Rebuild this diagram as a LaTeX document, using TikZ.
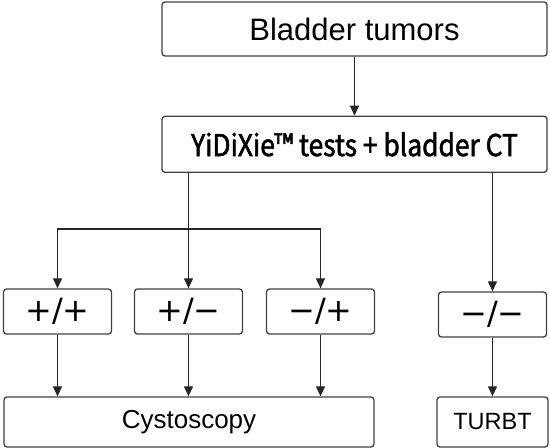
\documentclass[tikz,border=0pt]{standalone}
\usepackage[no-math]{fontspec}
\setmainfont{Liberation Sans}
\newfontfamily\yahei[FakeStretch=0.88, FakeBold=1.8]{Noto Sans CJK SC}
\newfontfamily\dejavu{DejaVu Sans}
\usetikzlibrary{arrows.meta, positioning}

\begin{document}
\begin{tikzpicture}[x=1pt, y=-1pt,
box/.style={rectangle, draw=black!75, rounded corners=3pt, line width=1.3pt, align=center, inner sep=0pt},
signbox/.style={box, minimum width=108pt, minimum height=45pt, font=\dejavu\fontsize{32}{34}\selectfont},
arrow/.style={-{Triangle[length=10pt, width=9pt]}, line width=1.2pt, black!85}
]
\useasboundingbox (0,0) rectangle (550,448);

\node[box, minimum width=385pt, minimum height=54pt, font=\fontsize{31}{33}\selectfont] (top) at (354.5,29) {Bladder tumors};
\node[box, minimum width=385pt, minimum height=56pt, font=\yahei\fontsize{30}{32}\selectfont, below=59pt of top] (tests) {YiDiXie™ tests + bladder CT};

% test outcomes
\node[signbox] (pp) at (57.5,311.5) {+/+};
\node[signbox] (pm) at (188.5,311.5) {+/−};
\node[signbox] (mp) at (320.5,311.5) {−/+};
\node[signbox] (mm) at (492.5,314.5) {−/−};

\node[box, minimum width=370pt, minimum height=50pt, font=\fontsize{26}{28}\selectfont] (cysto) at (189,422) {Cystoscopy};
\node[box, minimum width=111pt, minimum height=50pt, font=\fontsize{23.5}{25}\selectfont] (turbt) at (492.5,422) {TURBT};

\coordinate (split) at (188.5,229);

\draw[arrow] (top) -- (tests);
\draw[arrow] (tests.south -| pm) -- (pm);
\draw[arrow] (split) -| (pp);
\draw[arrow] (split) -| (mp);
\draw[arrow] (tests.south -| mm) -- (mm);

\draw[arrow] (pp) -- (pp |- cysto.north);
\draw[arrow] (pm) -- (pm |- cysto.north);
\draw[arrow] (mp) -- (mp |- cysto.north);
\draw[arrow] (mm) -- (turbt);
\end{tikzpicture}
\end{document}
